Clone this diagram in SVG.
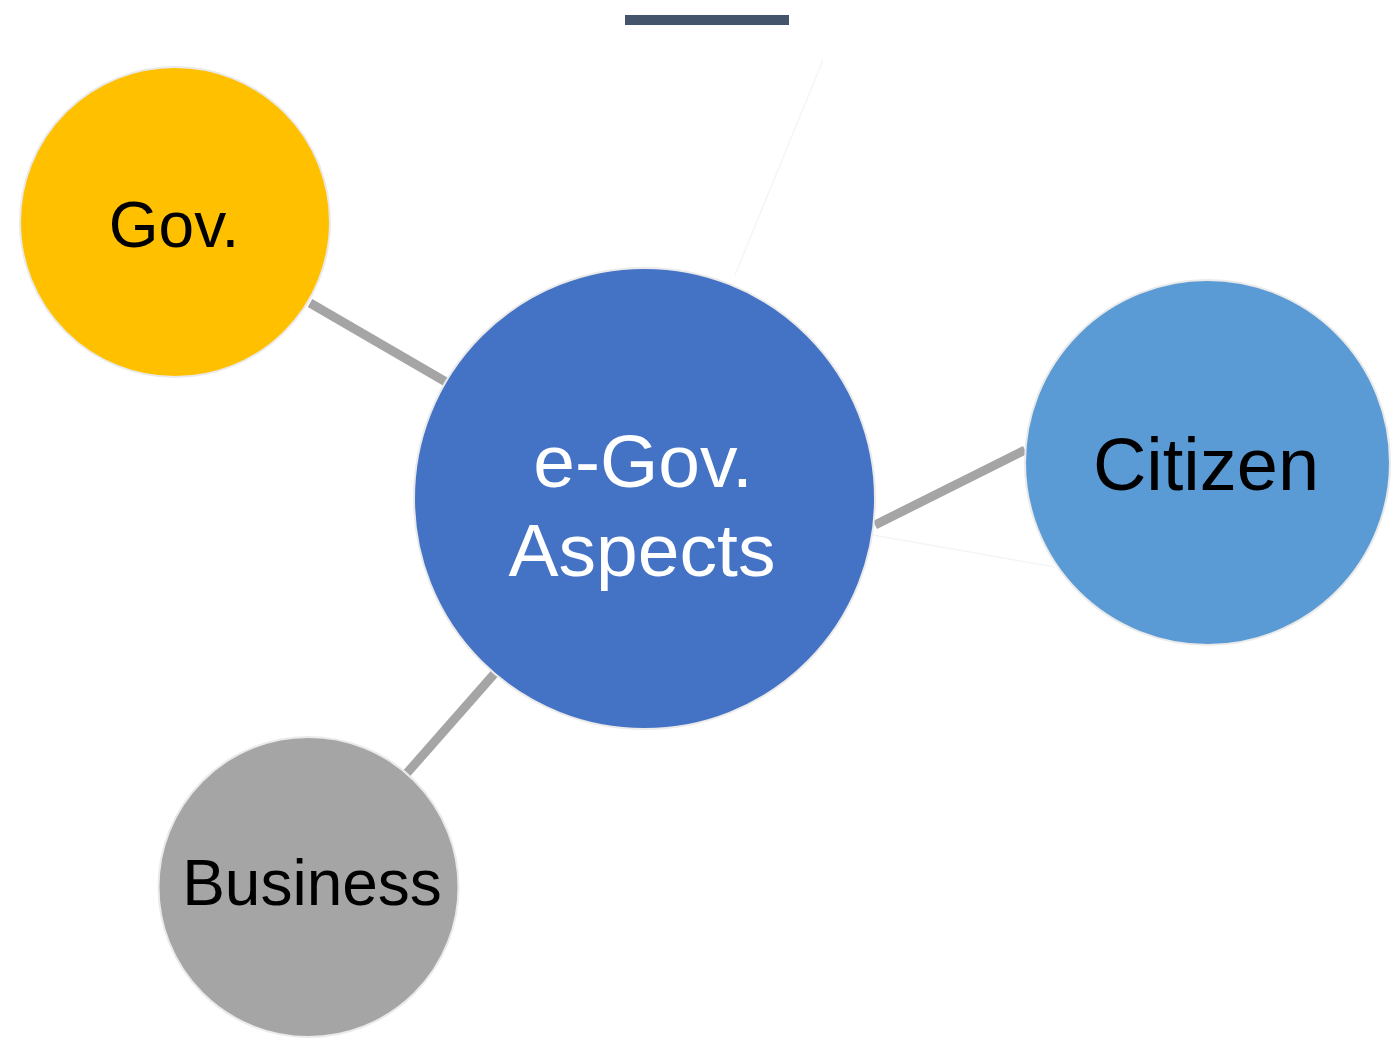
<svg xmlns="http://www.w3.org/2000/svg" width="1396" height="1045" viewBox="0 0 1396 1045">
<style>
.node{stroke:#EAEAEA;stroke-width:2}
.conn{stroke:#A5A5A5;stroke-width:9;fill:none}
.faint{stroke:#F4F5F7;stroke-width:1.5;fill:none}
.lbl{font-family:"Liberation Sans",Arial,sans-serif;text-anchor:middle}
</style>
<rect width="1396" height="1045" fill="#FFFFFF"/>
<rect id="title-bar" x="625" y="15" width="164" height="10" fill="#44546A"/>
<g id="connectors">
<line class="faint" x1="823" y1="60" x2="735" y2="275"/>
<line class="faint" x1="873" y1="535" x2="1055" y2="567"/>
<line class="conn" x1="310" y1="303" x2="446" y2="382"/>
<line class="conn" x1="875" y1="525" x2="1025" y2="450"/>
<line class="conn" x1="407" y1="773" x2="495" y2="673"/>
</g>
<g id="gov">
<circle class="node" cx="175" cy="222" r="155" fill="#FFC000"/>
<text class="lbl" x="174" y="247" font-size="64" fill="#000000">Gov.</text>
</g>
<g id="egov">
<circle class="node" cx="644.5" cy="498.5" r="230.5" fill="#4472C4"/>
<text class="lbl" x="643" y="487" font-size="75" fill="#FFFFFF">e-Gov.</text>
<text class="lbl" x="642" y="576" font-size="75" fill="#FFFFFF">Aspects</text>
</g>
<g id="citizen">
<circle class="node" cx="1207.5" cy="462.5" r="182.5" fill="#5B9BD5"/>
<text class="lbl" x="1206" y="490" font-size="74" fill="#000000">Citizen</text>
</g>
<g id="business">
<circle class="node" cx="308.5" cy="887" r="150" fill="#A5A5A5"/>
<text class="lbl" x="312" y="905" font-size="64" fill="#000000">Business</text>
</g>
</svg>
